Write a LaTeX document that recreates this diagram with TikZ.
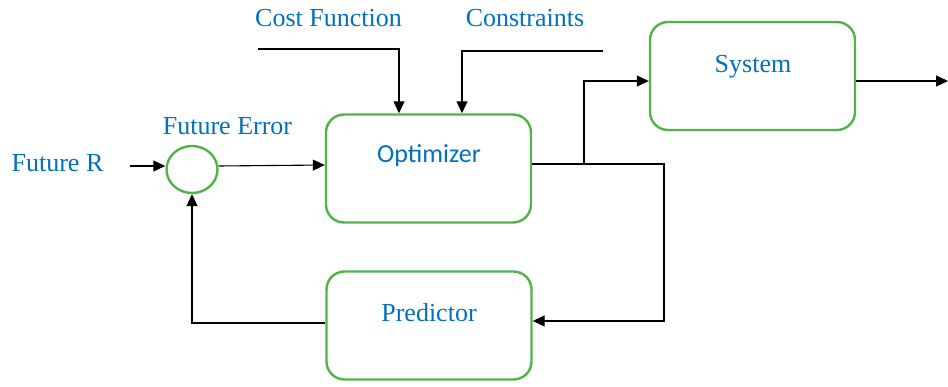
\documentclass[tikz,border=0pt]{standalone}
\usepackage{fontspec}
\setmainfont{Liberation Serif}
\newfontfamily\boxsans{Carlito}
\usetikzlibrary{arrows.meta,shapes.geometric}
\definecolor{txtblue}{RGB}{0,112,192}
\definecolor{boxgreen}{RGB}{80,180,70}
\tikzset{
  block/.style={draw=boxgreen,line width=2.4pt,rounded corners=18pt,fill=white,
    minimum width=205pt,minimum height=108pt,inner sep=0pt},
  sumjunction/.style={draw=boxgreen,line width=2.4pt,ellipse,fill=white,
    minimum width=51pt,minimum height=47pt,inner sep=0pt},
  lbl/.style={text=txtblue,font=\fontsize{26}{30}\selectfont,anchor=base,inner sep=0pt},
  sanslbl/.style={lbl,font=\boxsans\fontsize{26}{30}\selectfont},
  wire/.style={draw=black,line width=1.1pt},
  flow/.style={wire,-{Triangle[length=12pt,width=11pt]}}
}
\begin{document}
\begin{tikzpicture}[x=1pt,y=-1pt]
\useasboundingbox (0,0) rectangle (948,387);

% blocks
\node[block] (opt) at (428.5,168.5) {};
\node[block] (sys) at (752.5,76) {};
\node[block] (pred) at (429,325.5) {};
\node[sumjunction] (sum) at (192,169.5) {};

% block and signal labels
\node[sanslbl] (optlbl) at (429,163) {Optimizer};
\node[lbl] (syslbl) at (753,73) {System};
\node[lbl] (predlbl) at (429,322) {Predictor};
\node[lbl] (rlbl) at (57.5,172) {Future R};
\node[lbl] (errlbl) at (227.5,135) {Future Error};
\node[lbl] (costlbl) at (328.5,27) {Cost Function};
\node[lbl] (conlbl) at (525,27) {Constraints};

% free ends of open signals
\coordinate (rin) at (130,166);
\coordinate (costin) at (258,49);
\coordinate (conin) at (603,51);
\coordinate (yout) at (948,81);
\coordinate (tap) at (584,164);

% reference into the summing junction
\draw[flow] (rin) -- (sum.west |- rin);
% error into the optimizer
\draw[flow] (sum.east |- 0,166) -- (opt.west |- 0,165);
% cost function and constraints from above
\draw[flow] (costin) -| (opt.north -| 399,0);
\draw[flow] (conin) -| (opt.north -| 462,0);
% optimizer output to the system and to the predictor
\draw[wire] (opt.east |- tap) -- (tap);
\draw[flow] (tap) |- (sys.west |- yout);
\draw[flow] (tap) -- (664,164) |- (pred.east |- 0,321);
% system output
\draw[flow] (sys.east |- yout) -- (yout);
% prediction fed back to the summing junction
\draw[flow] (pred.west |- 0,323) -| (sum.south);
\end{tikzpicture}
\end{document}
